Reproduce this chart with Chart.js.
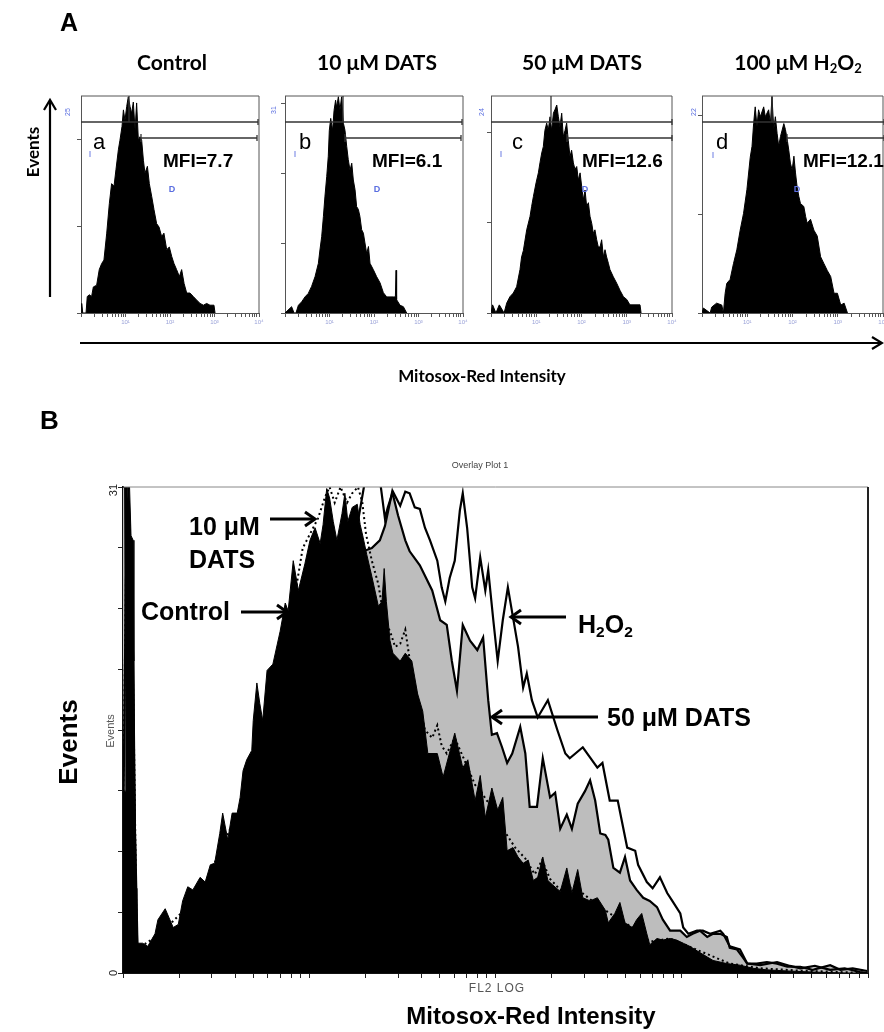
<!DOCTYPE html>
<html><head><meta charset="utf-8">
<script src="https://cdn.jsdelivr.net/npm/chart.js@4.4.0/dist/chart.umd.min.js"></script>
<style>
html,body{margin:0;padding:0;background:#fff;}
#wrap{position:relative;width:884px;height:1032px;overflow:hidden;background:#fff;}
canvas{position:absolute;left:0;top:0;}
.t{position:absolute;white-space:nowrap;color:#000;line-height:1;}
.ar{font-family:"Liberation Sans",Arial,sans-serif;}
.lt{font-family:Lato,"Open Sans",sans-serif;font-weight:bold;}
.c{transform:translateX(-50%);}
.rot{transform:translate(-50%,-50%) rotate(-90deg);}
.blue{color:#5a6ee0;font-family:"Liberation Sans",Arial,sans-serif;}
sub{font-size:62%;vertical-align:-0.25em;line-height:0;}
sup{font-size:70%;vertical-align:0.4em;line-height:0;}
svg{position:absolute;left:0;top:0;}
</style></head><body>
<div id="wrap">
<canvas id="ca" width="884" height="1032"></canvas>
<canvas id="cb" width="884" height="1032"></canvas>
<canvas id="cc" width="884" height="1032"></canvas>
<canvas id="cd" width="884" height="1032"></canvas>
<canvas id="cB" width="884" height="1032"></canvas>
<svg width="884" height="1032" viewBox="0 0 884 1032" id="ov"></svg>

<!-- Panel A text -->
<div class="t ar" style="left:60px;top:10px;font-size:25px;font-weight:bold;">A</div>
<div class="t lt c" style="left:172px;top:51px;font-size:21px;">Control</div>
<div class="t lt c" style="left:377px;top:51px;font-size:21px;">10 μM DATS</div>
<div class="t lt c" style="left:582px;top:51px;font-size:21px;">50 μM DATS</div>
<div class="t lt c" style="left:798px;top:51px;font-size:21px;">100 μM H<sub>2</sub>O<sub>2</sub></div>
<div class="t lt rot" style="left:32px;top:152px;font-size:17px;">Events</div>
<div class="t lt c" style="left:482px;top:367px;font-size:17px;">Mitosox-Red Intensity</div>

<div class="t ar" style="left:93px;top:131px;font-size:22px;">a</div>
<div class="t ar" style="left:299px;top:131px;font-size:22px;">b</div>
<div class="t ar" style="left:512px;top:131px;font-size:22px;">c</div>
<div class="t ar" style="left:716px;top:131px;font-size:22px;">d</div>
<div class="t ar" style="left:163px;top:151px;font-size:19px;font-weight:bold;">MFI=7.7</div>
<div class="t ar" style="left:372px;top:151px;font-size:19px;font-weight:bold;">MFI=6.1</div>
<div class="t ar" style="left:582px;top:151px;font-size:19px;font-weight:bold;">MFI=12.6</div>
<div class="t ar" style="left:803px;top:151px;font-size:19px;font-weight:bold;">MFI=12.1</div>

<div class="t blue rot" style="left:67px;top:112px;font-size:7px;">25</div>
<div class="t blue rot" style="left:273px;top:110px;font-size:7px;">31</div>
<div class="t blue rot" style="left:481px;top:112px;font-size:7px;">24</div>
<div class="t blue rot" style="left:693px;top:112px;font-size:7px;">22</div>
<div class="t blue c" style="left:90px;top:150px;font-size:9px;">I</div>
<div class="t blue c" style="left:295px;top:150px;font-size:9px;">I</div>
<div class="t blue c" style="left:501px;top:150px;font-size:9px;">I</div>
<div class="t blue c" style="left:713px;top:151px;font-size:9px;">I</div>
<div class="t blue c" style="left:172px;top:185px;font-size:9px;font-weight:bold;">D</div>
<div class="t blue c" style="left:377px;top:185px;font-size:9px;font-weight:bold;">D</div>
<div class="t blue c" style="left:585px;top:185px;font-size:9px;font-weight:bold;">D</div>
<div class="t blue c" style="left:797px;top:185px;font-size:9px;font-weight:bold;">D</div>
<div id="decades"></div>

<!-- Panel B text -->
<div class="t ar" style="left:40px;top:407px;font-size:26px;font-weight:bold;">B</div>
<div class="t ar c" style="left:480px;top:461px;font-size:9px;color:#444;">Overlay Plot 1</div>
<div class="t ar rot" style="left:113px;top:490px;font-size:11px;color:#222;">31</div>
<div class="t ar rot" style="left:113px;top:973px;font-size:11px;color:#222;">0</div>
<div class="t ar rot" style="left:110px;top:731px;font-size:11px;color:#555;">Events</div>
<div class="t ar rot" style="left:68px;top:742px;font-size:26px;font-weight:bold;">Events</div>
<div class="t ar c" style="left:497px;top:982px;font-size:12px;color:#555;letter-spacing:1px;">FL2 LOG</div>
<div class="t ar c" style="left:531px;top:1004px;font-size:24px;font-weight:bold;">Mitosox-Red Intensity</div>
<div class="t ar" style="left:189px;top:514px;font-size:25px;font-weight:bold;">10 μM</div>
<div class="t ar" style="left:189px;top:547px;font-size:25px;font-weight:bold;">DATS</div>
<div class="t ar" style="left:141px;top:599px;font-size:25px;font-weight:bold;">Control</div>
<div class="t ar" style="left:578px;top:612px;font-size:25px;font-weight:bold;">H<sub>2</sub>O<sub>2</sub></div>
<div class="t ar" style="left:607px;top:705px;font-size:25px;font-weight:bold;">50 μM DATS</div>
</div>

<script>
// ---------- Panel A data (channel 0-1023 on a 4-decade log axis, events) ----------
const ctrlACh = [0,4,10,29,36,48,61,71,90,105,119,132,148,163,176,190,201,215,224,236,244,253,263,272,282,291,301,311,320,330,339,349,359,368,382,393,407,420,435,449,464,477,493,508,522,535,550,566,579,593,608,627,646,665,685,704,723,742,765,771];
const ctrlAVal = [0,1.1,0,0,1.9,2.1,1.9,3.0,3.2,5.0,5.7,6.1,9.2,12.6,14.9,14.6,16.5,18.8,19.9,21.5,23.4,22.2,23.8,24.9,23.8,23.0,24.3,21.1,24.2,19.9,20.3,19.9,17.6,16.1,16.9,14.9,13.4,11.9,10.3,9.9,8.8,9.2,7.3,7.6,6.5,5.7,5.0,4.2,5.0,3.4,2.3,2.3,1.9,1.5,1.1,0.9,1.1,0.9,0.9,0];
const dats10ACh = [0,38,52,63,77,96,115,134,153,173,192,201,211,221,230,240,249,255,263,274,282,291,297,307,316,326,336,345,355,364,374,384,393,403,412,422,431,441,451,460,470,480,489,508,527,547,566,585,604,623,635,639,642,662,681,700];
const dats10AVal = [0,0.9,0,0,1.1,1.6,2.3,2.8,3.8,5.2,7.1,9.0,10.9,13.8,16.7,19.5,22.4,26.1,27.8,26.1,28.9,30.4,29.4,30.9,29.0,30.9,27.1,26.1,23.8,21.9,20.4,21.4,19.0,17.6,15.2,14.8,13.8,11.9,11.4,10.0,8.5,9.5,7.1,6.2,5.2,4.3,2.9,2.3,2.3,2.3,2.3,6.1,1.9,1.1,0.9,0];
const dats50ACh = [0,9,28,47,74,89,107,126,145,164,173,183,202,221,230,240,255,268,277,287,296,305,315,324,334,343,353,362,372,381,390,400,409,419,428,437,447,456,466,475,485,494,504,513,522,532,541,551,560,570,579,588,598,607,617,626,636,645,654,664,673,692,711,730,749,768,786,843,849];
const dats50AVal = [0,0.9,0,0.9,0,1.1,1.8,2.2,2.9,4.8,6.2,6.9,9.2,10.7,11.8,12.9,14.4,15.5,16.6,17.7,18.4,20.2,21.0,20.2,21.7,20.2,22.1,22.5,23.0,21.7,20.6,22.1,19.5,20.2,21.0,19.1,17.3,18.0,16.6,15.9,16.2,14.7,15.5,14.0,12.5,13.6,11.8,12.2,10.7,9.9,8.8,9.2,8.1,7.3,7.3,8.1,6.2,7.0,6.2,5.5,4.8,4.0,3.3,2.5,1.8,1.5,0.9,0.9,0];
const h2o2ACh = [0,8,46,55,83,112,121,131,140,159,178,197,216,235,254,273,283,292,301,311,320,330,349,358,377,387,396,406,415,425,434,444,463,472,482,491,500,510,520,529,538,548,557,576,586,595,614,633,652,671,690,709,728,747,766,785,804,823];
const h2o2AVal = [0,0.5,0,0.6,1.0,0.8,0,2.0,3.0,3.4,5.0,6.4,8.4,10.1,12.5,15.8,16.9,19.2,20.9,18.9,20.6,19.9,20.9,19.9,20.6,19.2,21.9,18.6,19.9,18.2,16.9,17.9,19.2,18.6,17.6,16.5,15.2,14.5,15.9,14.2,12.8,11.8,11.1,10.8,9.8,9.1,9.5,8.4,7.8,5.7,5.0,4.3,3.7,2.0,2.0,0.8,1.0,0];
const panelAMax = [25, 31, 24, 22];
const decadeLabels = ["10¹","10²","10³","10⁴"];

// ---------- Panel B overlay data ----------
const ctrlCh = [0,3,4,6,9,11,14,15,16,18,
 19,27,34,44,48,58,69,76,82,89,
 96,106,113,120,126,133,137,144,150,157,
 161,165,170,177,179,184,188,192,198,206,
 216,223,227,234,241,250,257,264,271,275,
 280,284,289,294,301,305,309,315,322,326,
 330,335,342,351,356,359,362,367,371,381,
 388,397,405,412,419,432,440,456,467,474,
 484,491,498,507,515,522,528,536,543,550,
 557,564,570,577,584,591,601,610,617,625,
 632,642,652,663,667,676,683,690,700,706,
 713,720,724,734,742,752,761,770,779,793,
 811,830,848,866,885,913,948,995,1023];
const ctrlVal = [11.6,11.6,27.9,31,31,27.9,27.6,19.9,12.9,5.4,
 1.9,1.9,1.7,2.5,3.4,4.1,2.9,3.1,4.6,5.5,
 5.3,6.1,5.8,6.9,7.0,8.9,10.2,8.5,10.2,10.2,
 11.2,12.9,13.6,14.2,16.1,18.5,17.2,16.1,19.3,19.7,
 21.8,23.6,23.1,26.3,24.4,26.1,27.6,28.4,27.4,28.6,
 30.9,30.3,28.8,27.6,29.3,30.6,28.8,29.7,29.9,28.6,
 27.8,26.7,25.3,23.4,23.7,25.8,23.7,21.2,20.4,19.9,
 20.4,19.9,17.8,16.7,14.0,14.0,12.5,15.3,13.1,13.6,
 11.0,12.6,9.9,11.8,10.4,11.2,7.8,8.0,7.4,7.0,
 7.2,5.9,6.1,7.4,5.9,5.6,5.2,6.7,5.1,6.6,
 4.8,4.6,4.8,4.0,3.2,3.8,4.5,3.2,2.9,3.4,
 3.8,2.5,1.8,2.2,2.1,2.2,2.1,1.9,1.7,1.3,
 0.8,0.6,0.5,0.3,0.2,0.13,0.06,0,0];
const dats10Ch = [0,4,7,11,15,19,51,106,175,216,
 236,247,257,268,278,284,291,299,308,315,
 323,329,334,342,351,359,367,374,381,388,
 394,405,415,425,432,438,445,456,470,484,
 493,500,511,525,539,553,566,576,587,601,
 621,642,669,697,724,752,793,834,876,931,
 1023];
const dats10Val = [10,25,30,27,15,1.5,2.5,5,12,20,
 24,27.1,28.0,29.0,30.4,31,30,31,30.0,30.6,
 31,30,28,26.3,24.8,22.5,21.8,20.8,21.0,21.9,
 20.0,17.5,15.5,15.0,15.8,14.5,14.0,15.0,13.5,12.0,
 11.5,11.0,10.5,9.0,8.0,7.3,6.3,7.2,6.0,5.3,
 5.5,4.7,3.8,3.0,2.0,2.2,1.4,0.6,0.3,0.15,
 0];
const dats50Ch = [0,3,4,14,17,20,40,80,120,160,
 200,240,270,300,320,330,342,353,360,370,
 378,388,394,408,425,436,445,452,459,467,
 477,487,495,502,507,514,521,528,535,546,
 553,559,569,577,587,594,601,610,617,625,
 635,642,649,656,663,667,674,683,690,697,
 706,715,724,734,742,752,766,775,783,793,
 803,811,821,830,834,844,852,858,871,885,
 899,913,931,948,972,986,1003,1023];
const dats50Val = [31,31,20,14,8,1.5,1.5,3,5,8.5,
 13,18,22,25,26,26.9,27.1,27.6,28.5,30.7,
 29.2,27.6,26.9,26.0,24.4,22.5,22.2,19.9,18.0,22.2,
 21.2,20.6,21.4,17.4,15.2,15.3,14.4,13.4,14.0,15.7,
 14.0,10.6,10.6,13.7,11.2,11.5,9.2,10.1,9.2,10.8,
 11.6,12.3,11.0,8.9,8.8,8.5,6.7,6.4,7.4,5.9,
 5.3,4.8,4.6,4.2,3.4,2.7,2.7,2.3,2.5,2.7,
 2.3,2.5,2.5,2.3,1.6,1.5,1.0,0.6,0.6,0.7,
 0.6,0.4,0.4,0.2,0.5,0.2,0.3,0.13];
const h2o2Ch = [0,4,8,14,17,20,40,80,120,160,
 200,240,280,320,333,342,353,360,364,371,
 381,388,394,401,408,415,422,432,438,443,
 449,456,463,467,473,480,484,491,498,502,
 509,515,522,529,536,543,550,555,562,570,
 584,597,608,614,632,652,659,669,680,693,
 704,708,720,728,738,748,755,766,770,777,
 789,797,807,821,825,834,848,858,876,899,
 917,931,951,972,992,1013,1023];
const h2o2Val = [8,25,30,20,6,1.0,1.5,3,5,8,
 13,19,25,28,31.5,33,31.5,29.0,29.7,30.7,
 29.8,30.7,30.6,29.7,29.6,28.4,27.6,26.3,24.6,23.7,
 25.2,26.3,29.5,30.6,28.4,24.6,23.9,26.5,24.4,25.7,
 22.5,19.9,22.5,24.6,22.7,20.8,18.2,19.1,17.4,16.3,
 17.4,15.5,14.0,13.7,14.4,13.1,13.4,11.0,11.0,8.0,
 7.8,6.9,5.8,5.4,6.1,5.1,4.6,3.8,2.9,2.5,
 2.7,2.7,2.5,2.7,2.5,1.7,1.5,0.6,0.5,0.7,
 0.45,0.3,0.45,0.2,0.3,0.06,0];
const overlayMax = 31;

// ---------- helpers ----------
const W = 884, H = 1032;
const logTicks = [];
for (let d = 0; d < 4; d++) for (let k = 1; k < 10; k++) logTicks.push(256 * (d + Math.log10(k)));
logTicks.push(1024);

const pts = (xs, ys) => xs.map((x, i) => ({x: x, y: ys[i]}));

const framePlugin = {
  id: 'frame',
  afterDatasetsDraw(chart, args, opts) {
    const ctx = chart.ctx, a = chart.chartArea;
    ctx.save();
    (opts.sides || []).forEach(s => {
      ctx.strokeStyle = s.color; ctx.lineWidth = s.width;
      ctx.beginPath();
      if (s.side === 'top') { ctx.moveTo(a.left, a.top); ctx.lineTo(a.right, a.top); }
      if (s.side === 'right') { ctx.moveTo(a.right, a.top); ctx.lineTo(a.right, a.bottom); }
      if (s.side === 'left') { ctx.moveTo(a.left, a.top); ctx.lineTo(a.left, a.bottom); }
      if (s.side === 'bottom') { ctx.moveTo(a.left, a.bottom); ctx.lineTo(a.right, a.bottom); }
      ctx.stroke();
    });
    ctx.restore();
  }
};

function makeChart(id, area, datasets, yMax, yTicks, style) {
  return new Chart(document.getElementById(id), {
    type: 'line',
    data: { datasets: datasets },
    plugins: [framePlugin],
    options: {
      responsive: false, animation: false, devicePixelRatio: 1, events: [],
      layout: { padding: { left: area.l, top: area.t, right: W - area.r, bottom: H - area.b } },
      elements: { point: { radius: 0 }, line: { tension: 0 } },
      plugins: { legend: { display: false }, tooltip: { enabled: false }, frame: { sides: style.frame } },
      scales: {
        x: {
          type: 'linear', min: 0, max: 1024,
          afterBuildTicks: s => { s.ticks = logTicks.map(v => ({ value: v })); },
          afterFit: s => { s.height = 0; },
          ticks: { display: false },
          grid: { drawOnChartArea: false, drawTicks: true, tickLength: style.xTick, color: style.tickColor, lineWidth: 1 },
          border: { display: true, color: style.axisColor, width: style.axisWidth }
        },
        y: {
          type: 'linear', min: 0, max: yMax,
          afterBuildTicks: s => { s.ticks = yTicks.map(v => ({ value: v })); },
          afterFit: s => { s.width = 0; },
          ticks: { display: false },
          grid: { drawOnChartArea: false, drawTicks: true, tickLength: style.yTick, color: style.tickColor, lineWidth: 1 },
          border: { display: true, color: style.axisColor, width: style.axisWidth }
        }
      }
    }
  });
}

// ---------- Panel A ----------
const areasA = [
  { l: 81, t: 96, r: 259, b: 313 },
  { l: 285, t: 96, r: 463, b: 313 },
  { l: 491, t: 96, r: 672, b: 313 },
  { l: 702, t: 96, r: 883, b: 313 }
];
const seriesA = [[ctrlACh, ctrlAVal], [dats10ACh, dats10AVal], [dats50ACh, dats50AVal], [h2o2ACh, h2o2AVal]];
const idsA = ['ca', 'cb', 'cc', 'cd'];
const styleA = {
  xTick: 4, yTick: 4, tickColor: '#555', axisColor: '#555', axisWidth: 1,
  frame: [{ side: 'top', color: '#555', width: 1 }, { side: 'right', color: '#555', width: 1 }]
};
seriesA.forEach((s, i) => {
  const yt = [];
  for (let v = 0; v <= panelAMax[i]; v += 10) yt.push(v);
  makeChart(idsA[i], areasA[i], [{
    data: pts(s[0], s[1]), borderColor: '#000', borderWidth: 1,
    backgroundColor: '#000', fill: 'origin', clip: 0
  }], panelAMax[i], yt, styleA);
});

// decade labels under the small plots
const decDiv = document.getElementById('decades');
areasA.forEach(a => {
  decadeLabels.forEach((lab, k) => {
    const x = a.l + (a.r - a.l) * (k + 1) / 4;
    const el = document.createElement('div');
    el.className = 't c';
    el.style.cssText = `left:${x}px;top:319px;font-size:6px;color:#9aa2d8;font-family:'Liberation Sans',Arial,sans-serif;`;
    el.textContent = lab;
    decDiv.appendChild(el);
  });
});

// ---------- Panel B ----------
const yTicksB = [];
for (let k = 0; k <= 8; k++) yTicksB.push(overlayMax * k / 8);
makeChart('cB', { l: 123, t: 487, r: 868, b: 973 }, [
  { label: '50 μM DATS', data: pts(dats50Ch, dats50Val), order: 4, fill: 'origin',
    backgroundColor: '#bdbdbd', borderColor: '#000', borderWidth: 2.2, clip: 0 },
  { label: 'Control', data: pts(ctrlCh, ctrlVal), order: 3, fill: 'origin',
    backgroundColor: '#000', borderColor: '#000', borderWidth: 1, clip: 0 },
  { label: '100 μM H2O2', data: pts(h2o2Ch, h2o2Val), order: 2, fill: false,
    borderColor: '#000', borderWidth: 2.2, clip: 0 },
  { label: '10 μM DATS', data: pts(dats10Ch, dats10Val), order: 1, fill: false,
    borderColor: '#000', borderWidth: 2, borderDash: [2, 3], clip: 0 }
], overlayMax, yTicksB, {
  xTick: 5, yTick: 5, tickColor: '#222', axisColor: '#111', axisWidth: 2,
  frame: [{ side: 'top', color: '#888', width: 1 }, { side: 'right', color: '#222', width: 2 }]
});

// ---------- overlay arrows / gate markers ----------
const ov = document.getElementById('ov');
function line(x1, y1, x2, y2, w, col) {
  const l = document.createElementNS('http://www.w3.org/2000/svg', 'line');
  l.setAttribute('x1', x1); l.setAttribute('y1', y1); l.setAttribute('x2', x2); l.setAttribute('y2', y2);
  l.setAttribute('stroke', col || '#000'); l.setAttribute('stroke-width', w);
  ov.appendChild(l);
}
function poly(p, w) {
  const e = document.createElementNS('http://www.w3.org/2000/svg', 'polyline');
  e.setAttribute('points', p); e.setAttribute('fill', 'none'); e.setAttribute('stroke', '#000');
  e.setAttribute('stroke-width', w); e.setAttribute('stroke-linejoin', 'miter');
  ov.appendChild(e);
}
// Panel A axis arrows
line(50, 297, 50, 101, 2.2); poly('44,110 50,100 56,110', 2.2);
line(80, 343, 881, 343, 2.2); poly('872,337 882,343 872,349', 2.2);
// gate markers
const gates = [
  { l: 81, r: 258, g: 141, ge: 257, m: 129 },
  { l: 285, r: 462, g: 345, ge: 461, m: 343 },
  { l: 491, r: 672, g: 567, ge: 672, m: 551 },
  { l: 702, r: 884, g: 787, ge: 884, m: 772 }
];
gates.forEach(g => {
  line(g.l, 122, g.r, 122, 1.3, '#333');
  line(g.r, 119, g.r, 125, 1.3, '#333');
  line(g.g, 138, g.ge, 138, 1.3, '#333');
  line(g.g, 134, g.g, 142, 1.3, '#333');
  line(g.ge, 135, g.ge, 141, 1.3, '#333');
  line(g.m, 96, g.m, 122, 1.3, '#333');
});
// Panel B annotation arrows
line(270, 519, 313, 519, 3); poly('305,512 315,519 305,526', 3);
line(241, 612, 285, 612, 3); poly('277,605 287,612 277,619', 3);
line(513, 617, 566, 617, 3); poly('521,610 511,617 521,624', 3);
line(494, 717, 598, 717, 3); poly('502,710 492,717 502,724', 3);
</script>
</body></html>
